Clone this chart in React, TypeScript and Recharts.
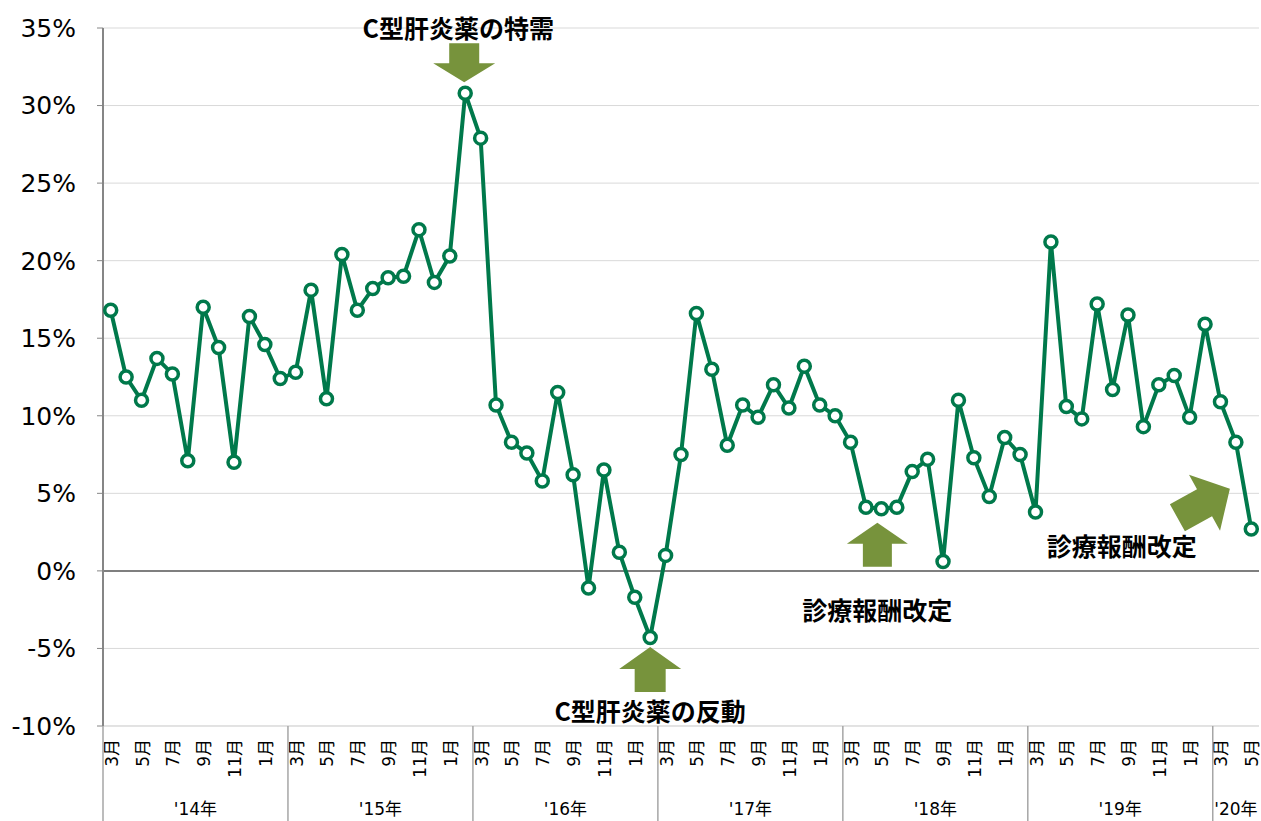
import React from 'react';
import { LineChart, Line, XAxis, YAxis, CartesianGrid, ReferenceLine, ReferenceDot } from 'recharts';

// ---- data ----
const categories = [
  '2014/3', '2014/4', '2014/5', '2014/6', '2014/7', '2014/8', '2014/9', '2014/10', '2014/11', '2014/12',
  '2015/1', '2015/2', '2015/3', '2015/4', '2015/5', '2015/6', '2015/7', '2015/8', '2015/9', '2015/10', '2015/11', '2015/12',
  '2016/1', '2016/2', '2016/3', '2016/4', '2016/5', '2016/6', '2016/7', '2016/8', '2016/9', '2016/10', '2016/11', '2016/12',
  '2017/1', '2017/2', '2017/3', '2017/4', '2017/5', '2017/6', '2017/7', '2017/8', '2017/9', '2017/10', '2017/11', '2017/12',
  '2018/1', '2018/2', '2018/3', '2018/4', '2018/5', '2018/6', '2018/7', '2018/8', '2018/9', '2018/10', '2018/11', '2018/12',
  '2019/1', '2019/2', '2019/3', '2019/4', '2019/5', '2019/6', '2019/7', '2019/8', '2019/9', '2019/10', '2019/11', '2019/12',
  '2020/1', '2020/2', '2020/3', '2020/4', '2020/5',
];

const growthRates = [
  16.8, 12.5, 11.0, 13.7, 12.7, 7.1, 17.0, 14.4, 7.0, 16.4,
  14.6, 12.4, 12.8, 18.1, 11.1, 20.4, 16.8, 18.2, 18.9, 19.0, 22.0, 18.6,
  20.3, 30.8, 27.9, 10.7, 8.3, 7.6, 5.8, 11.5, 6.2, -1.1, 6.5, 1.2,
  -1.7, -4.3, 1.0, 7.5, 16.6, 13.0, 8.1, 10.7, 9.9, 12.0, 10.5, 13.2,
  10.7, 10.0, 8.3, 4.1, 4.0, 4.1, 6.4, 7.2, 0.6, 11.0, 7.3, 4.8,
  8.6, 7.5, 3.8, 21.2, 10.6, 9.8, 17.2, 11.7, 16.5, 9.3, 12.0, 12.6,
  9.9, 15.9, 10.9, 8.3, 2.7,
];

const yTicks = [-10, -5, 0, 5, 10, 15, 20, 25, 30, 35];

const fiscalYearLabels = ["'14年", "'15年", "'16年", "'17年", "'18年", "'19年", "'20年"];
const fiscalYearStarts = [0, 12, 24, 36, 48, 60, 72];
const fiscalYearEnds = [11, 23, 35, 47, 59, 71, 74];

const annotationTexts = ['C型肝炎薬の特需', 'C型肝炎薬の反動', '診療報酬改定', '診療報酬改定'];
const annotationX = ['2016/2', '2017/2', '2018/5', '2020/4'];
const annotationY = [31.5, -4.9, 3.1, 5.3];

// ---- styles ----
const W = 1261;
const H = 821;
const LEFT = 103;
const RIGHT_MARGIN = 2;
const X_AXIS_H = 95;
const PLOT_W = W - LEFT - RIGHT_MARGIN;
const HALF_BAND = PLOT_W / categories.length / 2;
const LINE_COLOR = '#00794B';
const ARROW_COLOR = '#77933C';

const arrowStyle = [
  { angle: 180, dx: -1, headW: 62, headL: 19, shaftW: 30, len: 39, tdx: -6, tdy: -55 },
  { angle: 0, dx: 0, headW: 62, headL: 22, shaftW: 31, len: 45, tdx: 0, tdy: 63 },
  { angle: 0, dx: -4, headW: 61, headL: 21, shaftW: 29, len: 44, tdx: 0, tdy: 86 },
  { angle: 61, dx: -6, headW: 64, headL: 29, shaftW: 31, len: 60, tdx: -108, tdy: 56 },
];

const data = categories.map((c, i) => ({ month: c, rate: growthRates[i] }));

const XTick = (props: any) => {
  const { x, y, payload } = props;
  const i = categories.indexOf(payload.value);
  const half = typeof payload.offset === 'number' && payload.offset > 0 ? payload.offset : HALF_BAND;
  const month = String(payload.value).split('/')[1] + '月';
  const parts: any[] = [];
  if (i % 2 === 0) {
    parts.push(
      <text
        key="m"
        transform={`translate(${x + 1},${y + 13}) rotate(-90)`}
        textAnchor="end"
        dominantBaseline="central"
        fontSize={17}
        fontFamily="'DejaVu Sans', 'Noto Sans CJK JP', sans-serif"
        fill="#000"
      >
        {month}
      </text>
    );
  }
  const g = fiscalYearStarts.indexOf(i);
  if (g >= 0) {
    parts.push(<line key="s" x1={x - half} x2={x - half} y1={y} y2={H} stroke="#A6A6A6" strokeWidth={1.5} />);
  }
  fiscalYearLabels.forEach((lab, k) => {
    const mid = (fiscalYearStarts[k] + fiscalYearEnds[k]) / 2;
    if (i === Math.floor(mid)) {
      const lx = x + (mid - Math.floor(mid)) * 2 * half;
      parts.push(
        <text
          key={'y' + k}
          x={lx}
          y={y + 89}
          textAnchor="middle"
          fontSize={17}
          fontFamily="'DejaVu Sans', 'Noto Sans CJK JP', sans-serif"
          fill="#000"
        >
          {lab}
        </text>
      );
    }
  });
  return <g>{parts}</g>;
};

const makeArrow = (k: number) => (p: any) => {
  const s = arrowStyle[k];
  const tx = p.cx + s.dx;
  const ty = p.cy;
  const hw = s.headW / 2;
  const sw = s.shaftW / 2;
  const pts = [
    [0, 0], [hw, s.headL], [sw, s.headL], [sw, s.len], [-sw, s.len], [-sw, s.headL], [-hw, s.headL],
  ].map((q) => q.join(',')).join(' ');
  return (
    <g>
      <polygon points={pts} transform={`translate(${tx},${ty}) rotate(${s.angle})`} fill={ARROW_COLOR} />
      <text
        x={tx + s.tdx}
        y={ty + s.tdy}
        textAnchor="middle"
        dominantBaseline="central"
        fontSize={25}
        fontWeight="bold"
        fontFamily="'Noto Sans CJK JP', sans-serif"
        fill="#000"
      >
        {annotationTexts[k]}
      </text>
    </g>
  );
};

export default function App() {
  return (
    <div style={{ position: 'absolute', left: 0, top: 0, width: W, height: H, background: '#fff' }}>
      <LineChart width={W} height={H} data={data} margin={{ top: 28, right: RIGHT_MARGIN, bottom: 0, left: 0 }}>
        <CartesianGrid vertical={false} stroke="#D9D9D9" strokeWidth={1} />
        <XAxis
          dataKey="month"
          scale="band"
          interval={0}
          height={X_AXIS_H}
          tickSize={0}
          tickMargin={0}
          tickLine={false}
          axisLine={{ stroke: '#D9D9D9' }}
          tick={<XTick />}
        />
        <YAxis
          width={LEFT}
          domain={[-10, 35]}
          ticks={yTicks}
          type="number"
          allowDataOverflow
          tickFormatter={(v: number) => `${v}%`}
          axisLine={{ stroke: '#868686', strokeWidth: 2 }}
          tickLine={{ stroke: '#868686' }}
          tickSize={6}
          tickMargin={21}
          tick={{ fontSize: 25, fill: '#000', fontFamily: "'DejaVu Sans', sans-serif" }}
        />
        <ReferenceLine y={0} stroke="#7F7F7F" strokeWidth={2} />
        {annotationX.map((ax, k) => (
          <ReferenceDot key={k} x={ax} y={annotationY[k]} r={1} ifOverflow="visible" shape={makeArrow(k)} />
        ))}
        <Line
          type="linear"
          dataKey="rate"
          stroke={LINE_COLOR}
          strokeWidth={4}
          dot={{ r: 6, fill: '#fff', stroke: LINE_COLOR, strokeWidth: 3.5 }}
          activeDot={false}
          isAnimationActive={false}
        />
      </LineChart>
    </div>
  );
}
